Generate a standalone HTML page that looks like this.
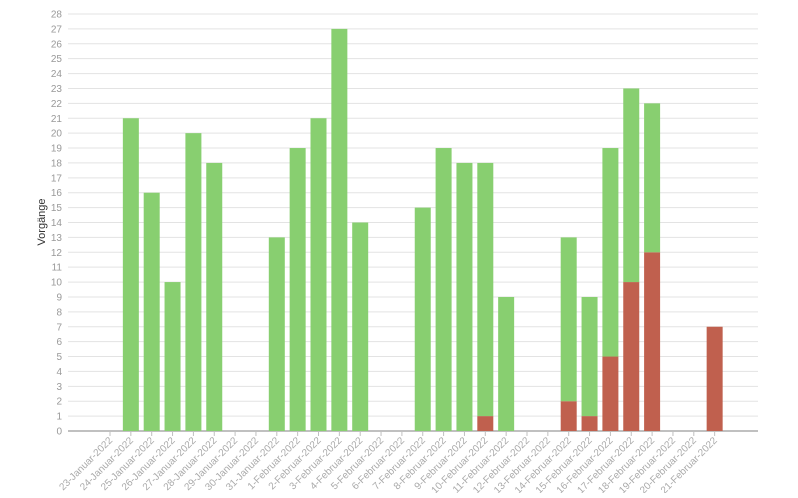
<!DOCTYPE html>
<html><head><meta charset="utf-8"><style>
body{margin:0;background:#fff;font-family:"Liberation Sans",sans-serif}
svg text{font-family:"Liberation Sans",sans-serif}
</style></head><body>
<svg id="chart" width="798" height="493"></svg>
<script>
const categories=["23-Januar-2022","24-Januar-2022","25-Januar-2022","26-Januar-2022","27-Januar-2022","28-Januar-2022","29-Januar-2022","30-Januar-2022","31-Januar-2022","1-Februar-2022","2-Februar-2022","3-Februar-2022","4-Februar-2022","5-Februar-2022","6-Februar-2022","7-Februar-2022","8-Februar-2022","9-Februar-2022","10-Februar-2022","11-Februar-2022","12-Februar-2022","13-Februar-2022","14-Februar-2022","15-Februar-2022","16-Februar-2022","17-Februar-2022","18-Februar-2022","19-Februar-2022","20-Februar-2022","21-Februar-2022"];
const redValues=[0,0,0,0,0,0,0,0,0,0,0,0,0,0,0,0,0,0,1,0,0,0,2,1,5,10,12,0,0,7];
const greenValues=[0,21,16,10,20,18,0,0,13,19,21,27,14,0,0,15,19,18,17,9,0,0,11,8,14,13,10,0,0,0];
const yTicks=[0,1,2,3,4,5,6,7,8,9,10,11,12,13,14,15,16,17,18,19,20,21,22,23,24,25,26,27,28];
const NS="http://www.w3.org/2000/svg";
const svg=document.getElementById('chart');
const L=68,R=758,T=14,B=431,yMax=28;
const y=v=>B-(v/yMax)*(B-T);
const step=20.85;
const x=i=>110+i*step;
function mk(t,a){const e=document.createElementNS(NS,t);for(const k in a)e.setAttribute(k,a[k]);svg.appendChild(e);return e;}
yTicks.forEach(v=>{
  const g=mk('line',{x1:L,x2:R,y1:y(v),y2:y(v),stroke:'#e3e3e3','stroke-width':1});
  
  
  const t=mk('text',{x:L-6,y:y(v)+3.5,'text-anchor':'end','font-size':10,fill:'#999'});
  t.textContent=v;
  
  
});
const ax=mk('line',{x1:L,x2:R,y1:B,y2:B,stroke:'#c0c0c0','stroke-width':2});


const bw=16;
categories.forEach((c,i)=>{
  const cx=x(i);
  const tk=mk('line',{x1:cx,x2:cx,y1:B,y2:B+5,stroke:'#c0c0c0'});
  
  
  const r=redValues[i],g=greenValues[i];
  if(r>0){const b=mk('rect',{x:cx-bw/2,y:y(r),width:bw,height:B-y(r),fill:'#c0604e'});
    
    }
  if(g>0){const b=mk('rect',{x:cx-bw/2,y:y(r+g),width:bw,height:y(r)-y(r+g),fill:'#88cf70'});
    
    }
  const t=mk('text',{x:cx+3,y:B+10,'text-anchor':'end','font-size':10,fill:'#aaa',transform:`rotate(-45 ${cx+3} ${B+10})`});
  t.textContent=c;
  
  
});
const yt=mk('text',{x:45,y:222,'text-anchor':'middle','font-size':11,fill:'#333',transform:'rotate(-90 45 222)'});
yt.textContent='Vorgänge';


</script>
</body></html>
